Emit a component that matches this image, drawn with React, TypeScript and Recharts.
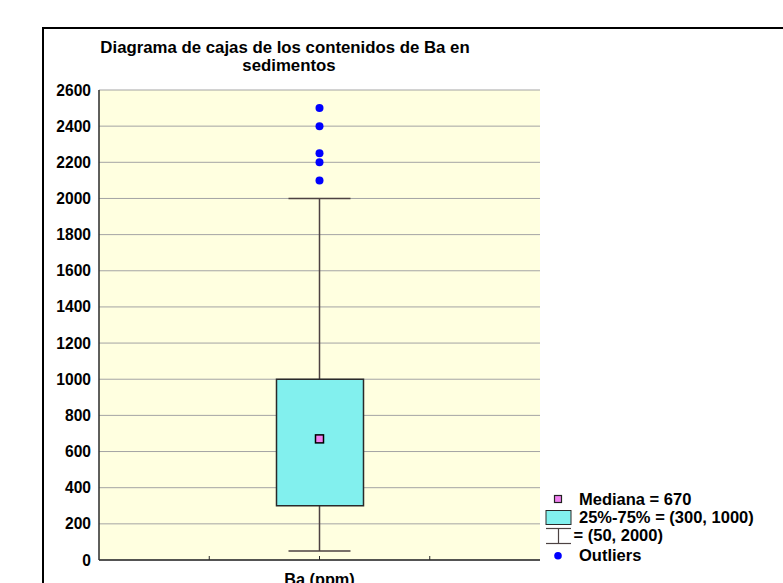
import {
  ComposedChart,
  Bar,
  Scatter,
  XAxis,
  YAxis,
  CartesianGrid,
} from 'recharts';

// Ba contents in sediments (ppm)
const categories = ['Ba (ppm)'];
const quartiles = [300, 1000];
const whiskers = [50, 2000];
const median = 670;
const outliers = [2100, 2200, 2250, 2400, 2500];
const yTicks = [0, 200, 400, 600, 800, 1000, 1200, 1400, 1600, 1800, 2000, 2200, 2400, 2600];
const xTicks = [1, 2, 3];
const xTickLabels = ['', categories[0], ''];
const titleLines = ['Diagrama de cajas de los contenidos de Ba en', 'sedimentos'];
const legendLabels = [
  `Mediana = ${median}`,
  `25%-75% = (${quartiles[0]}, ${quartiles[1]})`,
  `= (${whiskers[0]}, ${whiskers[1]})`,
  'Outliers',
];

const font = '"Liberation Sans", Arial, Helvetica, sans-serif';
const axisColor = '#2a2a2a';
const whiskerColor = '#4d4242';
const boxFill = '#82f0ee';
const medianFill = '#f080f0';
const outlierColor = '#0000ff';

const boxData = [{ name: categories[0], x: 2, box: quartiles, whisker: whiskers }];
const medianData = [{ x: 2, y: median }];
const outlierData = outliers.map((v) => ({ x: 2, y: v }));

const WhiskerShape = (props: any) => {
  const { x, y, width, height } = props;
  const cx = x + width / 2;
  return (
    <g stroke={whiskerColor} strokeWidth={1.5}>
      <line x1={cx} y1={y} x2={cx} y2={y + height} />
      <line x1={x} y1={y} x2={x + width} y2={y} />
      <line x1={x} y1={y + height} x2={x + width} y2={y + height} />
    </g>
  );
};

const MedianShape = (props: any) => {
  const { cx, cy } = props;
  return (
    <rect x={cx - 4} y={cy - 4} width={8} height={8} fill={medianFill} stroke="#000" strokeWidth={1.5} />
  );
};

const OutlierShape = (props: any) => {
  const { cx, cy } = props;
  return <circle cx={cx} cy={cy} r={4} fill={outlierColor} />;
};

const XTick = (props: any) => {
  const { x, y, payload } = props;
  const label = xTickLabels[xTicks.indexOf(payload.value)];
  if (!label) return null;
  return (
    <text x={x} y={y + 29} textAnchor="middle" fontFamily={font} fontWeight="bold" fontSize={16.3} fill="#000">
      {label}
    </text>
  );
};

export default function App() {
  return (
    <div
      style={{
        position: 'absolute',
        left: 0,
        top: 0,
        width: 783,
        height: 583,
        overflow: 'hidden',
        background: '#fff',
      }}
    >
      <div
        style={{
          position: 'absolute',
          left: 42,
          top: 27,
          width: 800,
          height: 600,
          border: '2px solid #000',
        }}
      />
      <div style={{ position: 'absolute', left: 0, top: 0 }}>
        <ComposedChart
          width={783}
          height={583}
          data={boxData}
          margin={{ top: 90, right: 243, left: 39, bottom: 0 }}
        >
          <CartesianGrid vertical={false} stroke="#a4a4a4" fill="#ffffe0" />
          <XAxis
            dataKey="x"
            type="number"
            domain={[0, 4]}
            ticks={xTicks}
            interval={0}
            height={23}
            tickSize={-4}
            tickMargin={0}
            tick={<XTick />}
            axisLine={{ stroke: axisColor, strokeWidth: 1.5 }}
            tickLine={{ stroke: axisColor }}
          />
          <XAxis
            xAxisId="top"
            orientation="top"
            dataKey="x"
            type="number"
            domain={[0, 4]}
            ticks={xTicks}
            interval={0}
            height={0}
            tickSize={-4}
            tick={false}
            axisLine={{ stroke: axisColor, strokeWidth: 1.5 }}
            tickLine={{ stroke: axisColor }}
          />
          <XAxis xAxisId="w" dataKey="x" type="number" domain={[0, 4]} hide />
          <YAxis
            type="number"
            domain={[0, 2600]}
            ticks={yTicks}
            interval={0}
            width={60}
            tickSize={0}
            tickMargin={8}
            tickLine={false}
            axisLine={{ stroke: axisColor, strokeWidth: 1.5 }}
            tick={{ fontFamily: font, fontWeight: 'bold', fontSize: 15.6, fill: '#000' }}
          />
          <YAxis
            yAxisId="r"
            orientation="right"
            type="number"
            domain={[0, 2600]}
            width={0}
            tick={false}
            tickLine={false}
            axisLine={{ stroke: axisColor, strokeWidth: 1.5 }}
          />
          <Bar
            xAxisId="w"
            dataKey="whisker"
            barSize={62}
            shape={<WhiskerShape />}
            isAnimationActive={false}
          />
          <Bar
            dataKey="box"
            barSize={87}
            fill={boxFill}
            stroke={axisColor}
            strokeWidth={1.5}
            isAnimationActive={false}
          />
          <Scatter data={medianData} dataKey="y" shape={<MedianShape />} isAnimationActive={false} />
          <Scatter data={outlierData} dataKey="y" shape={<OutlierShape />} isAnimationActive={false} />
        </ComposedChart>
      </div>
      <svg
        width={783}
        height={583}
        style={{ position: 'absolute', left: 0, top: 0, pointerEvents: 'none' }}
        fontFamily={font}
        fontWeight="bold"
      >
        <text x={285} y={53} textAnchor="middle" fontSize={16.8} fill="#000">
          {titleLines[0]}
        </text>
        <text x={289} y={71} textAnchor="middle" fontSize={16.8} fill="#000">
          {titleLines[1]}
        </text>
        {/* legend */}
        <rect x={554.5} y={495.5} width={7} height={7} fill={medianFill} stroke="#222" strokeWidth={1.2} />
        <text x={579} y={504.5} fontSize={16.5} fill="#000">{legendLabels[0]}</text>
        <rect x={546} y={510.5} width={25} height={14} fill={boxFill} stroke={axisColor} strokeWidth={1} />
        <text x={579} y={522.5} fontSize={16.5} fill="#000">{legendLabels[1]}</text>
        <g stroke={whiskerColor} strokeWidth={1.2}>
          <line x1={546} y1={528.5} x2={571} y2={528.5} />
          <line x1={558.5} y1={528.5} x2={558.5} y2={543.5} />
          <line x1={546} y1={543.5} x2={571} y2={543.5} />
        </g>
        <text x={573.5} y={541} fontSize={16.5} fill="#000">{legendLabels[2]}</text>
        <circle cx={558} cy={555.8} r={3.8} fill={outlierColor} />
        <text x={579} y={560.5} fontSize={16.5} fill="#000">{legendLabels[3]}</text>
      </svg>
    </div>
  );
}
